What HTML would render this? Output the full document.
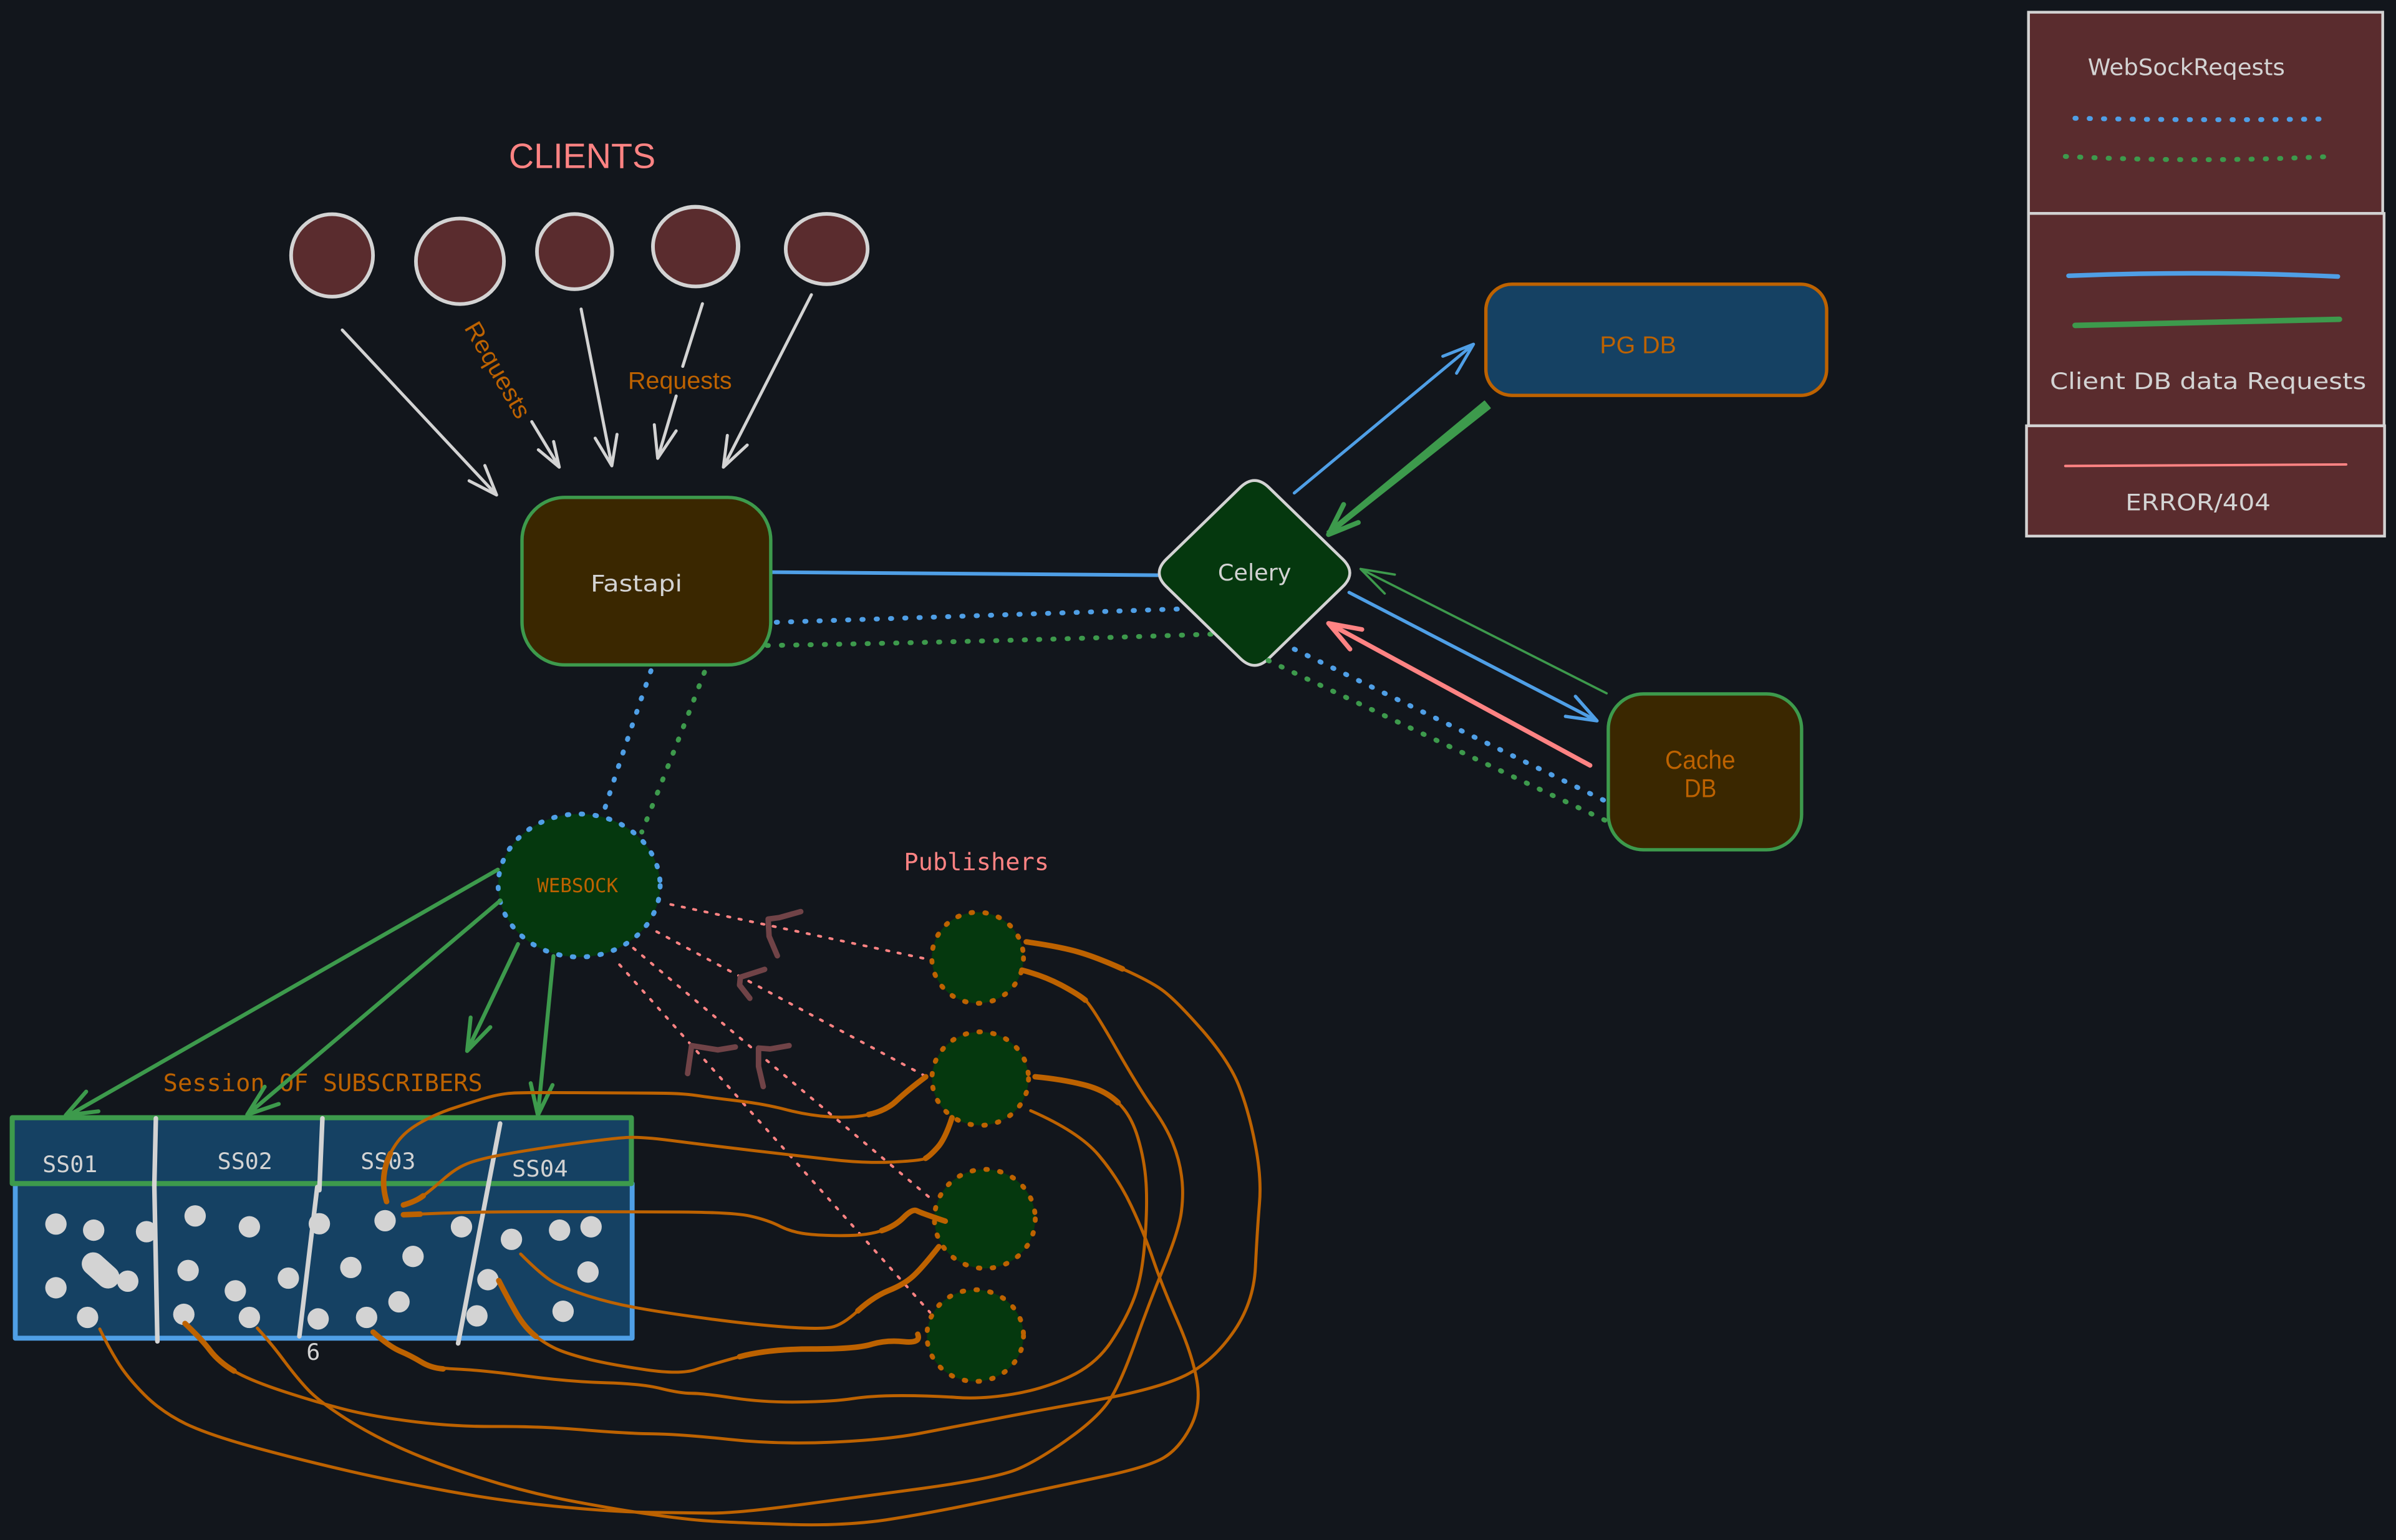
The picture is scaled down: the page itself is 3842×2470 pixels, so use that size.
<!DOCTYPE html>
<html lang="en">
<head>
<meta charset="utf-8">
<title>Architecture diagram</title>
<style>
html,body{margin:0;padding:0;background:#12161c;width:3842px;height:2470px;overflow:hidden}
svg{display:block;position:absolute;left:0;top:0}
.g{fill:none;stroke:#d3d3d3;stroke-linecap:round;stroke-linejoin:round}
.gr{fill:none;stroke:#3d9a4c;stroke-linecap:round;stroke-linejoin:round}
.bl{fill:none;stroke:#4f9fe6;stroke-linecap:round;stroke-linejoin:round}
.pk{fill:none;stroke:#ff8383;stroke-linecap:round;stroke-linejoin:round}
.or{fill:none;stroke:#bd6200;stroke-width:2;stroke-linecap:round;stroke-linejoin:round}
.ot{fill:none;stroke:#bd6200;stroke-width:3.6;stroke-linecap:round;stroke-linejoin:round}
.dot{stroke-dasharray:0.8 8.55;stroke-width:3.2}
.pd{fill:none;stroke:#ff8383;stroke-width:1.7;stroke-linecap:round;stroke-dasharray:1.7 5.9}
.mr{fill:none;stroke:#704347;stroke-width:3.6;stroke-linecap:round;stroke-linejoin:round}
.sans{font-family:"Liberation Sans",sans-serif}
.mono{font-family:"DejaVu Sans Mono","Liberation Mono",monospace}
.hand{font-family:"DejaVu Sans",sans-serif;font-weight:normal;fill:#d3d3d3;font-size:15px}
</style>
</head>
<body>
<svg xmlns="http://www.w3.org/2000/svg" width="3842" height="2470" viewBox="0 0 1568 1008" preserveAspectRatio="none">
<rect x="0" y="0" width="1568" height="1008" fill="#12161c"/>

<!-- Clients -->
<text class="sans" x="333" y="110" font-size="23" fill="#ff8383" textLength="96" lengthAdjust="spacingAndGlyphs">CLIENTS</text>
<g fill="#5a2c2e" stroke="#d3d3d3" stroke-width="2.4">
<ellipse cx="217.3" cy="167.2" rx="26.8" ry="27"/>
<ellipse cx="301" cy="171" rx="28.8" ry="28"/>
<ellipse cx="376" cy="164.7" rx="24.6" ry="24.6"/>
<ellipse cx="455.3" cy="161.5" rx="28" ry="26"/>
<ellipse cx="541" cy="163" rx="26.8" ry="23"/>
</g>
<ellipse cx="455" cy="161" rx="27" ry="26.5" fill="none" stroke="#d3d3d3" stroke-width="0.8"/>

<!-- Client arrows -->
<g class="g" stroke-width="2">
<path d="M224 216L325 324M317.3 304.7L325 324L307 314.7"/>
<path d="M348 276L366 305.8M352.3 294.4L366 305.8L362.3 289"/>
<path d="M380.3 202.3L400.4 304.9M389.5 286.8L400.4 304.9L403.8 284.3"/>
<path d="M459.7 198.8L446.8 239.8M442.5 259.2L430.4 300M428.2 278L430.4 300L442.5 282"/>
<path d="M531 192.9L473.4 305.8M476 285L473.4 305.8L489 291.3"/>
</g>
<text class="sans" x="411" y="254.5" font-size="16" fill="#bd6200" textLength="68" lengthAdjust="spacingAndGlyphs">Requests</text>
<text class="sans" font-size="16" fill="#bd6200" textLength="70" lengthAdjust="spacingAndGlyphs" transform="translate(303.5,214.5) rotate(60)">Requests</text>

<!-- Connections Fastapi / Celery -->
<path class="bl" stroke-width="2.4" d="M505 374.5L758 376.5"/>
<path class="bl dot" d="M508 407.3Q640 403 775 398.5"/>
<path class="gr dot" d="M502 422.5Q650 420 795 415"/>
<path class="bl dot" d="M426 439Q410 485 396 528.6"/>
<path class="gr dot" d="M461 440Q440 495 420 544.6"/>

<!-- Fastapi -->
<rect x="341.6" y="325.6" width="162.8" height="109.6" rx="28" fill="#3a2700" stroke="#3d9a4c" stroke-width="2.2"/>
<text class="hand" x="386.5" y="387" textLength="60" lengthAdjust="spacingAndGlyphs">Fastapi</text>

<!-- Websock -->
<ellipse cx="379" cy="579.6" rx="53" ry="46.8" fill="#05380e" stroke="#4f9fe6" stroke-width="3.2" stroke-linecap="round" stroke-dasharray="1 8.1"/>
<text class="mono" x="351.5" y="584" font-size="12.6" fill="#bd6200" textLength="53" lengthAdjust="spacingAndGlyphs">WEBSOCK</text>

<!-- Pink dashed lines -->
<path class="pd" d="M438.9 592L607.8 628"/>
<path class="pd" d="M429.7 609.8L609.3 706.4"/>
<path class="pd" d="M414.5 620.6L611.5 786.5"/>
<path class="pd" d="M405.4 631.4L608.6 859"/>

<!-- Maroon arrowheads -->
<path class="mr" d="M524 596.7L510 600.6L502.7 601.6L503.3 612.8L508.7 625.6"/>
<path class="mr" d="M500.4 634.5L484.5 639.6L484 644.8L490.7 653.4"/>
<path class="mr" d="M481.2 685.3L469.8 687.2L452.6 684.4L450 702.7"/>
<path class="mr" d="M516.4 684.4L504 686.6L496.4 686L496.4 698L499.5 711.2"/>

<!-- Publishers -->
<text class="mono" x="591.5" y="569.6" font-size="15.8" fill="#ff8383" textLength="95" lengthAdjust="spacingAndGlyphs">Publishers</text>
<g fill="#05380e" stroke="#bd6200" stroke-width="3.2" stroke-linecap="round" stroke-dasharray="1 8.1">
<ellipse cx="639.8" cy="626.9" rx="30" ry="29.8"/>
<ellipse cx="641.5" cy="706" rx="31.6" ry="30.6"/>
<ellipse cx="644.5" cy="797.8" rx="33" ry="32.4"/>
<ellipse cx="638.2" cy="874.2" rx="31.6" ry="30"/>
</g>

<!-- Session box -->
<rect x="10" y="774.7" width="403.7" height="101.2" fill="#154163" stroke="#4f9fe6" stroke-width="3.2" stroke-linejoin="round"/>
<rect x="8" y="731.6" width="405.2" height="43.1" fill="#154163" stroke="#3d9a4c" stroke-width="3.3" stroke-linejoin="round"/>
<g fill="#d3d3d3">
<circle cx="36.6" cy="801.2" r="7"/><circle cx="61.3" cy="805.2" r="7"/><circle cx="95.9" cy="806.2" r="7"/>
<circle cx="36.6" cy="842.9" r="7"/><circle cx="57.3" cy="862.3" r="7"/><circle cx="83.6" cy="838.6" r="7"/>
<circle cx="127.7" cy="795.9" r="7"/><circle cx="163.2" cy="803" r="7"/><circle cx="123.1" cy="831.6" r="7"/>
<circle cx="120.3" cy="860.3" r="7"/><circle cx="154" cy="844.9" r="7"/><circle cx="163.2" cy="862.3" r="7"/>
<circle cx="188.7" cy="836.6" r="7"/><circle cx="209" cy="801" r="7"/><circle cx="208.2" cy="863.3" r="7"/>
<circle cx="229.6" cy="829.6" r="7"/><circle cx="252" cy="799" r="7"/><circle cx="270.3" cy="822.4" r="7"/>
<circle cx="239.9" cy="862.3" r="7"/><circle cx="261.1" cy="852.1" r="7"/><circle cx="302" cy="803" r="7"/>
<circle cx="334.7" cy="811.2" r="7"/><circle cx="366.2" cy="805.2" r="7"/><circle cx="386.8" cy="803" r="7"/>
<circle cx="384.8" cy="832.6" r="7"/><circle cx="319.3" cy="837.6" r="7"/><circle cx="312.1" cy="861.3" r="7"/>
<circle cx="368.5" cy="858.3" r="7"/>
</g>
<path d="M61 827.2L70.7 835.9" fill="none" stroke="#d3d3d3" stroke-width="15" stroke-linecap="round"/>

<!-- Dividers -->
<g class="g" stroke-width="3">
<path d="M102 732L101 776"/><path d="M101 776L103 878"/>
<path d="M211 732L209 779"/><path d="M207.6 777L195.9 874.7"/>
<path d="M327.3 735.4L299.8 879.3"/>
</g>
<g class="mono" font-size="15" fill="#d3d3d3">
<text x="27.8" y="767.2" textLength="36" lengthAdjust="spacingAndGlyphs">SS01</text>
<text x="142.3" y="765.2" textLength="36" lengthAdjust="spacingAndGlyphs">SS02</text>
<text x="236" y="765.2" textLength="36" lengthAdjust="spacingAndGlyphs">SS03</text>
<text x="335" y="770" textLength="36.7" lengthAdjust="spacingAndGlyphs">SS04</text>
<text x="200.5" y="890">6</text>
</g>
<text class="mono" x="106.8" y="714.2" font-size="15.8" fill="#bd6200" textLength="209" lengthAdjust="spacingAndGlyphs">Session OF SUBSCRIBERS</text>

<!-- Green arrows from websock -->
<g class="gr" stroke-width="2.6">
<path d="M325.8 569.2L45 730M56.4 714.5L43 730L64.4 727.4"/>
<path d="M327.5 589.4L161.8 729.6M173.2 711.3L161.8 729.6L182.4 722.6"/>
<path d="M339 617.9L305.7 687.9M308 666L305.7 687.9L320.9 672.3"/>
<path d="M362.2 625.8L352 730M347.3 709L352 730L361.6 710.2"/>
</g>

<!-- Orange curves -->
<path class="or" d="M253 786.5Q250.5 778 251.2 770Q252 762 255.5 755Q259 748 264 743Q269 738 277.5 733.5Q286 729 294.7 726Q303.5 723 315 719.5Q326.4 716 335 715.5Q343.6 715 375.8 715.2Q408 715.5 426.7 715.5Q445.4 715.5 455.5 717Q465.5 718.5 482.6 720.5Q499.8 722.5 514 726.2Q528.5 730 542.8 731Q557 732 568.5 729.5Q580 727 587 720.2Q594.3 713.4 605.8 704.8"/>
<path class="ot" d="M568.5 729.5Q580 727 587 720.2Q594.3 713.4 605.8 704.8"/>
<path class="ot" d="M253 786.5Q250.5 778 251.2 770Q252 762 255.5 755"/>
<path class="or" d="M264 788.7Q272 786.5 277 782.7Q282 779 290 772Q297.8 765 305 762Q312 759 327.8 756Q343.6 753 372 749Q400.9 745 411 744.5Q421 744 443 747Q465.5 749.9 494 753.2Q522.7 756.6 544 759Q565.7 761.5 584 760.6Q602.9 759.7 605.7 758.2Q608.6 756.6 613.6 751Q618.6 745.3 623 731.6"/>
<path class="ot" d="M264 788.7Q272 786.5 277 782.7"/>
<path class="ot" d="M605.7 758.2Q608.6 756.6 613.6 751Q618.6 745.3 623 731.6"/>
<path class="or" d="M264 795.1Q275 794.7 289 794.1Q303.5 793.5 323.5 793.3Q343.6 793.1 376 793.1Q408.2 793.2 444 793.3Q479.8 793.5 491 796Q502.7 798.6 511 802.9Q519.9 807.2 531 808Q542.8 809 555.6 808.7Q568.5 808.4 577 805.5Q585.7 802.6 591.4 796.8Q597.2 791 600 792.5Q602.9 794 618.6 799.3"/>
<path class="ot" d="M264 795.1L275 794.7"/>
<path class="ot" d="M577 805.5Q585.7 802.6 591.4 796.8Q597.2 791 600 792.5Q602.9 794 618.6 799.3"/>
<path class="or" d="M340.7 820.8Q355 835.2 362.2 839.2Q369.4 843.3 385 848.3Q400.9 853.3 418.8 856.4Q436.8 859.6 465.4 863.4Q494 867.2 515.5 868.7Q537 870.2 544.2 868.7Q551.4 867.2 561.4 858Q571.4 848.9 581.4 844.8Q591.5 840.7 597.2 835.6Q602.9 830.6 614.4 816"/>
<path class="ot" d="M561.4 858Q571.4 848.9 581.4 844.8Q591.5 840.7 597.2 835.6Q602.9 830.6 614.4 816"/>
<path class="or" d="M326.4 838.2Q332 849.3 337.8 859.3Q343.6 869.3 350.8 874.8Q358 880.3 365 883.3Q372.2 886.4 386.5 890Q400.9 893.4 423 896.6Q445.4 899.8 455.5 896.4Q465.5 893 484 888Q502.7 883 531 883Q560 883 570 880Q580 877 591.5 878.2Q603 879.4 600.6 873.3"/>
<path class="ot" d="M326.4 838.2Q332 849.3 337.8 859.3Q343.6 869.3 350.8 874.8"/>
<path class="ot" d="M484 888Q502.7 883 531 883Q560 883 570 880Q580 877 591.5 878.2Q603 879.4 600.6 873.3"/>
<path class="or" d="M244.2 871.9Q254.8 881.4 261.9 884.4Q269 887.4 275.5 891.4Q282 895.4 298.5 896.1Q315 896.8 343.6 900.6Q372.2 904.4 396.5 905.1Q420.9 905.8 433 909Q445.4 912 452.5 912Q459.7 912 479.7 915Q499.8 918 522.7 917.7Q545.6 917.4 558.5 915.4Q571.4 913.5 590 913.5Q608.6 913.5 625.8 914.7Q643 915.9 663 912.5Q683 909.2 700.2 901Q717.4 893 727.4 877.8Q737.5 862.6 742.5 848.9Q747.5 835.2 749.2 812.3Q751 789.5 750 774.2Q749 759 744.6 744.5Q740.3 730 731.7 721.7Q723.2 713.4 708.8 709.9Q694.5 706.4 677.4 704.8"/>
<path class="ot" d="M244.2 871.9Q254.8 881.4 261.9 884.4Q269 887.4 275.5 891.4Q282 895.4 290 896"/>
<path class="ot" d="M731.7 721.7Q723.2 713.4 708.8 709.9Q694.5 706.4 677.4 704.8"/>
<path class="or" d="M121.1 866.3Q131.7 876.3 137.4 883.8Q143.2 891.4 153.2 897.4Q163.2 903.4 186 910.9Q209 918.4 227.6 923Q246.2 927.5 272 930.7Q297.8 933.9 325 933.7Q352.2 933.5 380.2 935.8Q408.2 938.2 426.8 938.5Q445.4 938.8 477 942.1Q508.4 945.5 544 944Q580 942.4 601.5 938.3Q623 934.2 648.8 929.2Q674.5 924.1 714.5 917Q754.6 909.8 773.3 901.4Q792 893 806.2 873.2Q820.5 853.5 821.6 829Q822.8 804.7 824.2 788Q825.7 771.2 821.6 749.9Q817.6 728.6 811.2 711.8Q804.8 695 787 674.5Q769 654 760.4 647.9Q751.8 641.8 734.6 634.2Q717.4 626.5 706 623.2Q694.5 619.8 671.6 616.5"/>
<path class="ot" d="M121.1 866.3Q131.7 876.3 137.4 883.8Q143.2 891.4 153.2 897.4"/>
<path class="ot" d="M734.6 634.2Q717.4 626.5 706 623.2Q694.5 619.8 671.6 616.5"/>
<path class="or" d="M168.4 869.3Q177.5 879.3 186 890.8Q194.7 902.4 201.8 909.9Q209 917.4 226.2 928.5Q243.4 939.5 264.8 949Q286.3 958.5 315 967.5Q343.6 976.6 372.2 982.1Q400.9 987.6 425 991.1Q449 994.6 464.4 995.6Q479.8 996.6 515.6 997.8Q551.4 999 580 994.8Q608.6 990.5 651.5 981.4Q694.5 972.3 723 966.2Q751.8 960 761.8 954Q771.8 947.9 779 934.2Q786.2 920.5 783.3 903.8Q780.4 887 770.4 864.2Q760.4 841.3 754.7 824.6Q749 807.8 740.4 789.5Q731.8 771.2 718.9 756Q706 740.8 674.5 727"/>
<path class="or" stroke-width="2.8" d="M168.4 869.3Q177.5 879.3 186 890.8"/>
<path class="or" d="M65.3 869.9Q70.2 880.3 76.6 890.8Q83 901.4 94.5 912.9Q106 924.4 121.7 932Q137.4 939.5 168.9 948Q200.4 956.5 229 963Q257.7 969.6 293.5 976.1Q329.3 982.6 365 986.1Q400.9 989.6 425 989.9Q449 990.2 464.4 990.4Q479.8 990.6 515.6 986Q551.4 981.4 601.5 974.5Q651.6 967.7 665.9 961.6Q680.2 955.5 700.2 941Q720.3 926.6 727.4 914.4Q734.6 902.2 743.2 877.8Q751.8 853.5 761.8 829Q771.8 804.7 773.2 792.5Q774.7 780.4 773.2 769.7Q771.8 759 767.5 748.3Q763.3 737.7 754.6 725.5Q746 713.4 730.3 686Q714.6 658.5 710.3 654.7Q706 651 694.5 644.8Q683 638.7 668.8 635"/>
<path class="ot" d="M710.3 654.7Q706 651 694.5 644.8Q683 638.7 668.8 635"/>

<!-- Celery -->
<path d="M830.3 319L878.7 366Q888 375 878.7 384L830.3 431Q821 440 811.7 431L763.3 384Q754 375 763.3 366L811.7 319Q821 310 830.3 319Z" fill="#05380e" stroke="#d3d3d3" stroke-width="1.9"/>
<text class="hand" x="797" y="380" textLength="48" lengthAdjust="spacingAndGlyphs">Celery</text>

<!-- PG DB -->
<rect x="972.4" y="186" width="223" height="72.8" rx="17" fill="#154163" stroke="#bd6200" stroke-width="2.2"/>
<text class="sans" x="1047" y="231.2" font-size="16" fill="#bd6200" textLength="50" lengthAdjust="spacingAndGlyphs">PG DB</text>

<!-- Cache DB -->
<rect x="1052.5" y="454.2" width="126.5" height="102" rx="23" fill="#3a2700" stroke="#3d9a4c" stroke-width="2.2"/>
<text class="sans" x="1089.7" y="503.2" font-size="17" fill="#bd6200" textLength="46" lengthAdjust="spacingAndGlyphs">Cache</text>
<text class="sans" x="1102.3" y="521.8" font-size="17" fill="#bd6200" textLength="21" lengthAdjust="spacingAndGlyphs">DB</text>

<!-- Celery arrows -->
<path class="bl" stroke-width="2" d="M847 322.7L964.3 225.3M944.2 233.2L964.3 225.3L953.2 244.3"/>
<polygon points="975.1,267.1 971.5,262.7 868.6,348 870.2,350" fill="#3d9a4c" stroke="#3d9a4c" stroke-width="1" stroke-linejoin="round"/>
<path class="gr" stroke-width="3.2" d="M879.3 330.2L869.4 349.9L888.9 342"/>
<path class="gr" stroke-width="1.5" d="M1051.4 453.8L890.4 372.4M912.8 376.1L890.4 372.4L906.2 388.5"/>
<path class="bl" stroke-width="2.2" d="M882.9 387.8L1045.1 471.8M1031 455.8L1045.1 471.8L1024.5 468.9"/>
<path class="pk" stroke-width="3" d="M1040.6 501L869.4 408M891.3 412L869.4 408L883.5 424.9"/>
<path class="bl dot" d="M847 424.9L1052 525"/>
<path class="gr dot" d="M829.9 432.3L1051.4 537.4"/>

<!-- Legend -->
<g fill="#5a2c2e" stroke="#d3d3d3" stroke-width="1.8">
<rect x="1327.5" y="8" width="231.8" height="131.7"/>
<rect x="1327.5" y="139.7" width="232.7" height="139"/>
<rect x="1326.2" y="278.7" width="234.3" height="72.2"/>
</g>
<text class="hand" x="1366.3" y="49.2" textLength="129" lengthAdjust="spacingAndGlyphs">WebSockReqests</text>
<path class="bl dot" d="M1357.9 77.4Q1437 79 1518.5 77.9"/>
<path class="gr dot" d="M1351.6 102.4Q1436 106.5 1521.5 102.6"/>
<path class="bl" stroke-width="3" d="M1353.7 180.5Q1440 177 1530 181"/>
<path class="gr" stroke-width="3.6" d="M1358 213L1531 209"/>
<text class="hand" x="1341.5" y="254.7" textLength="207" lengthAdjust="spacingAndGlyphs">Client DB data Requests</text>
<path class="pk" stroke-width="1.6" d="M1351.6 305L1535.4 304"/>
<text class="hand" x="1391" y="334" textLength="95" lengthAdjust="spacingAndGlyphs">ERROR/404</text>
</svg>
</body>
</html>
